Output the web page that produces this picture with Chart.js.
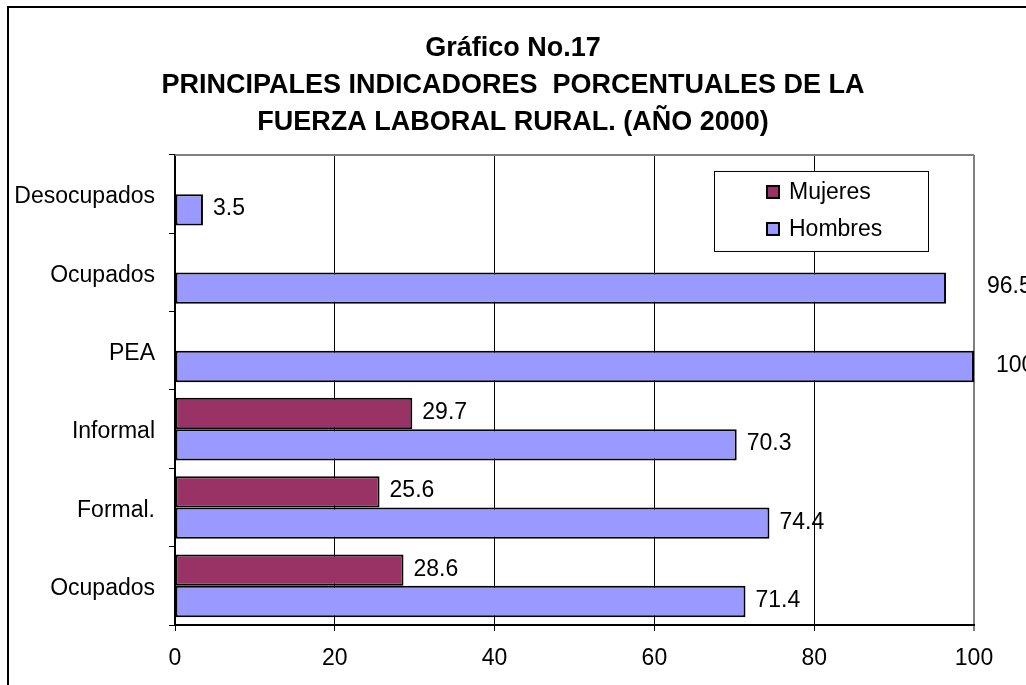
<!DOCTYPE html>
<html>
<head>
<meta charset="utf-8">
<script src="https://cdn.jsdelivr.net/npm/chart.js@4/dist/chart.umd.min.js"></script>
<style>
    html, body { margin: 0; padding: 0; background: #fff; }
    canvas { display: block; }
</style>
</head>
<body>
<canvas id="fuerza-chart" width="1026" height="685"></canvas>
<script>
// Datos del grafico
const CATEGORIAS = ['Desocupados', 'Ocupados', 'PEA', 'Informal', 'Formal.', 'Ocupados'];
const MUJERES = [null, null, null, 29.7, 25.6, 28.6];
const HOMBRES = [3.5, 96.5, 100, 70.3, 74.4, 71.4];
const TICKS_X = [0, 20, 40, 60, 80, 100];
const TITULO = [
    'Gráfico No.17',
    'PRINCIPALES INDICADORES  PORCENTUALES DE LA',
    'FUERZA LABORAL RURAL. (AÑO 2000)'
];

const FONT = '"Liberation Sans", Arial, sans-serif';
// desplazamiento extra de algunas etiquetas (como en el original, movidas a mano)
const EXTRA_ETIQUETA = [[0, 0, 0, 0, 0, 0], [0, 31, 12, 0, 0, 0]];

// marco exterior, borde superior gris, etiquetas y leyenda dentro del area
const decorPlugin = {
    id: 'decor',
    beforeDraw(chart) {
        const ctx = chart.ctx;
        ctx.save();
        ctx.strokeStyle = '#000';
        ctx.lineWidth = 2;
        ctx.strokeRect(8, 7, chart.width + 20, chart.height + 20);
        ctx.restore();
    },
    afterDraw(chart) {
        const ctx = chart.ctx;
        const area = chart.chartArea;
        ctx.save();
        ctx.strokeStyle = '#808080';
        ctx.lineWidth = 2;
        ctx.beginPath();
        ctx.moveTo(area.left, area.top);
        ctx.lineTo(area.right, area.top);
        ctx.stroke();

        // leyenda
        const boxW = 214, boxH = 80;
        const bx = area.right - 46 - boxW;
        const by = area.top + 16;
        ctx.fillStyle = '#fff';
        ctx.fillRect(bx, by, boxW, boxH);
        ctx.strokeStyle = '#000';
        ctx.lineWidth = 1;
        ctx.strokeRect(bx + 0.5, by + 0.5, boxW, boxH);
        ctx.font = '23px ' + FONT;
        ctx.textBaseline = 'middle';
        chart.data.datasets.forEach((ds, i) => {
            const cy = by + 21 + i * 37;
            ctx.fillStyle = ds.backgroundColor;
            ctx.fillRect(bx + 53, cy - 6, 12, 12);
            ctx.strokeStyle = '#000';
            ctx.lineWidth = 2;
            ctx.strokeRect(bx + 53, cy - 6, 12, 12);
            ctx.fillStyle = '#000';
            ctx.fillText(ds.label, bx + 75, cy + 1);
        });
        ctx.restore();
    },
    afterDatasetsDraw(chart) {
        const ctx = chart.ctx;
        ctx.save();
        ctx.font = '23px ' + FONT;
        ctx.fillStyle = '#000';
        ctx.textBaseline = 'middle';
        ctx.textAlign = 'left';
        chart.data.datasets.forEach((ds, i) => {
            const meta = chart.getDatasetMeta(i);
            meta.data.forEach((bar, j) => {
                const v = ds.data[j];
                if (v === null || v === undefined) return;
                ctx.fillText(String(v), bar.x + 10 + EXTRA_ETIQUETA[i][j], bar.y - 1);
            });
        });
        ctx.restore();
    }
};

const canvas = document.getElementById('fuerza-chart');

const fuerzaChart = new Chart(canvas, {
    type: 'bar',
    data: {
        labels: CATEGORIAS,
        datasets: [
            {
                label: 'Mujeres',
                data: MUJERES,
                backgroundColor: '#993366',
                borderColor: '#000',
                borderWidth: 2,
                borderSkipped: false,
                categoryPercentage: 0.8,
                barPercentage: 1.0
            },
            {
                label: 'Hombres',
                data: HOMBRES,
                backgroundColor: '#9999FF',
                borderColor: '#000',
                borderWidth: 2,
                borderSkipped: false,
                categoryPercentage: 0.8,
                barPercentage: 1.0
            }
        ]
    },
    options: {
        indexAxis: 'y',
        responsive: false,
        devicePixelRatio: 1,
        animation: false,
        layout: { padding: 0 },
        plugins: {
            legend: { display: false },
            tooltip: { enabled: false },
            title: {
                display: true,
                text: TITULO,
                color: '#000',
                font: { family: FONT, size: 27, weight: 'bold', lineHeight: 1.37 },
                padding: { top: 30, bottom: 14 }
            }
        },
        scales: {
            x: {
                min: 0,
                max: 100,
                afterBuildTicks: (scale) => {
                    scale.ticks = TICKS_X.map(v => ({ value: v }));
                },
                afterFit: (scale) => { scale.height = 60; },
                ticks: {
                    color: '#000',
                    font: { family: FONT, size: 23 },
                    padding: 14
                },
                grid: {
                    color: (c) => c.tick && c.tick.value === 100 ? '#808080' : '#000',
                    lineWidth: (c) => c.tick && c.tick.value === 100 ? 2 : 1,
                    tickLength: 6
                },
                border: { display: true, color: '#000', width: 2 }
            },
            y: {
                afterFit: (scale) => { scale.width = 175; },
                ticks: {
                    color: '#000',
                    font: { family: FONT, size: 23 },
                    padding: 14,
                    labelOffset: 3
                },
                grid: {
                    drawOnChartArea: false,
                    color: '#000',
                    tickLength: 6,
                    offset: true
                },
                border: { display: true, color: '#000', width: 2 }
            },
            yRight: {
                type: 'category',
                position: 'right',
                labels: CATEGORIAS,
                afterFit: (scale) => { scale.width = 52; },
                ticks: { display: false },
                grid: { display: false },
                border: { display: false }
            }
        }
    },
    plugins: [decorPlugin]
});
</script>
</body>
</html>
